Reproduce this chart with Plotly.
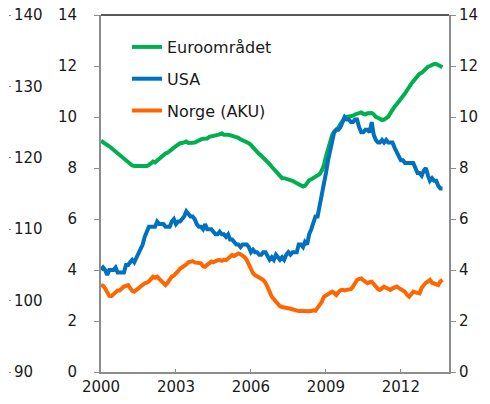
import plotly.graph_objects as go
import pandas as pd

months = pd.date_range("2000-01-01", "2013-09-01", freq="MS")

euro = [
    9.07, 9.0, 8.95, 8.9, 8.85, 8.78, 8.7, 8.62, 8.55, 8.5, 8.42, 8.35,
    8.3, 8.22, 8.15, 8.1, 8.08, 8.08, 8.07, 8.08, 8.08, 8.1, 8.08, 8.12,
    8.2, 8.25, 8.22, 8.3, 8.38, 8.42, 8.5, 8.57, 8.6, 8.68, 8.74, 8.8,
    8.86, 8.92, 8.97, 8.98, 9.0, 9.04, 8.98, 8.97, 8.99, 9.0, 9.05, 9.1,
    9.12, 9.15, 9.15, 9.16, 9.22, 9.25, 9.27, 9.28, 9.3, 9.32, 9.36, 9.3,
    9.32, 9.3, 9.29, 9.27, 9.25, 9.2, 9.18, 9.13, 9.1, 9.06, 9.02, 8.97,
    8.9, 8.8, 8.72, 8.62, 8.55, 8.48, 8.4, 8.34, 8.28, 8.15, 8.05, 7.95,
    7.85, 7.75, 7.65, 7.6, 7.6, 7.58, 7.57, 7.55, 7.5, 7.45, 7.4, 7.37,
    7.32, 7.27, 7.3, 7.42, 7.52, 7.56, 7.6, 7.66, 7.7, 7.76, 7.9, 8.1,
    8.45, 8.75, 9.05, 9.28, 9.42, 9.5, 9.58, 9.72, 9.85, 9.95, 10.0, 10.02,
    10.02, 10.05, 10.1, 10.12, 10.15, 10.18, 10.12, 10.1, 10.15, 10.17, 10.16, 10.1,
    10.0, 9.97, 9.92, 9.88, 9.9, 9.95, 10.01, 10.15, 10.3, 10.4, 10.5, 10.6,
    10.67, 10.8, 10.92, 11.05, 11.2, 11.3, 11.4, 11.52, 11.6, 11.7, 11.73, 11.82,
    11.9, 11.97, 12.0, 12.05, 12.08, 12.08, 12.03, 11.97, 11.95,
]

usa = [
    4.0, 4.1, 4.0, 3.8, 4.0, 4.0, 4.0, 4.1, 3.9, 3.9, 3.9, 3.9,
    4.2, 4.2, 4.3, 4.4, 4.3, 4.5, 4.6, 4.9, 5.0, 5.3, 5.5, 5.7,
    5.7, 5.7, 5.7, 5.9, 5.8, 5.8, 5.8, 5.7, 5.7, 5.7, 5.9, 6.0,
    5.8, 5.9, 5.9, 6.0, 6.1, 6.3, 6.2, 6.1, 6.1, 6.0, 5.8, 5.7,
    5.7, 5.6, 5.8, 5.6, 5.6, 5.6, 5.5, 5.4, 5.4, 5.5, 5.4, 5.4,
    5.3, 5.4, 5.2, 5.2, 5.1, 5.0, 5.0, 4.9, 5.0, 5.0, 5.0, 4.9,
    4.7, 4.8, 4.7, 4.7, 4.6, 4.6, 4.7, 4.7, 4.5, 4.4, 4.5, 4.4,
    4.6, 4.5, 4.4, 4.5, 4.4, 4.6, 4.7, 4.6, 4.7, 4.7, 4.7, 5.0,
    5.0, 4.9, 5.1, 5.0, 5.4, 5.6, 5.8, 6.1, 6.1, 6.5, 6.8, 7.3,
    7.8, 8.3, 8.7, 9.0, 9.4, 9.5, 9.5, 9.6, 9.8, 10.0, 9.9, 9.9,
    9.8, 9.8, 9.9, 9.9, 9.6, 9.4, 9.4, 9.5, 9.5, 9.4, 9.8, 9.3,
    9.1, 9.0, 9.0, 9.1, 9.0, 9.1, 9.0, 9.0, 9.0, 8.8, 8.6, 8.5,
    8.3, 8.3, 8.2, 8.2, 8.2, 8.2, 8.2, 8.0, 7.8, 7.8, 7.7, 7.9,
    8.0, 7.7, 7.5, 7.6, 7.5, 7.5, 7.3, 7.2, 7.2,
]

norge = [
    3.41, 3.38, 3.28, 3.12, 2.98, 2.97, 3.05, 3.12, 3.2, 3.2, 3.28, 3.35,
    3.38, 3.41, 3.3, 3.18, 3.15, 3.22, 3.3, 3.35, 3.4, 3.48, 3.5, 3.55,
    3.65, 3.74, 3.7, 3.74, 3.65, 3.55, 3.45, 3.41, 3.5, 3.62, 3.74, 3.78,
    3.85, 3.95, 4.05, 4.1, 4.15, 4.22, 4.3, 4.33, 4.35, 4.3, 4.28, 4.3,
    4.26, 4.15, 4.13, 4.2, 4.26, 4.33, 4.3, 4.35, 4.38, 4.39, 4.36, 4.4,
    4.39, 4.45, 4.52, 4.59, 4.55, 4.6, 4.65, 4.62, 4.58, 4.5, 4.39, 4.2,
    4.0, 3.87, 3.8, 3.75, 3.7, 3.65, 3.61, 3.5, 3.35, 3.15, 2.95, 2.85,
    2.75, 2.63, 2.58, 2.55, 2.52, 2.5, 2.5, 2.48, 2.45, 2.42, 2.4, 2.39,
    2.39, 2.38, 2.38, 2.4, 2.38, 2.39, 2.42, 2.4, 2.5, 2.63, 2.75, 2.95,
    3.0, 3.02, 3.08, 3.15, 3.1, 3.02, 3.12, 3.2, 3.22, 3.2, 3.22, 3.22,
    3.25, 3.35, 3.5, 3.61, 3.65, 3.67, 3.6, 3.55, 3.48, 3.52, 3.54, 3.45,
    3.35, 3.25, 3.22, 3.3, 3.35, 3.3, 3.25, 3.22, 3.28, 3.32, 3.35, 3.3,
    3.25, 3.22, 3.15, 3.02, 2.95, 3.05, 3.15, 3.12, 3.1, 3.08, 3.3, 3.41,
    3.5, 3.55, 3.61, 3.5, 3.48, 3.45, 3.41, 3.55, 3.61,
]

series_names = ["Euroområdet", "USA", "Norge (AKU)"]
series_colors = ["#00B050", "#0070C0", "#FF6600"]
tick_years = [2000, 2003, 2006, 2009, 2012]
left_ticks = [0, 2, 4, 6, 8, 10, 12, 14]
far_left_ticks = [90, 100, 110, 120, 130, 140]

FONT = "DejaVu Sans, Verdana, sans-serif"
AXIS_GRAY = "#8c8c8c"

fig = go.Figure()
for name, vals, col in zip(series_names, [euro, usa, norge], series_colors):
    fig.add_trace(go.Scatter(
        x=months, y=vals, name=name, mode="lines",
        line=dict(color=col, width=4), legendgroup=name,
    ))

# empty helper traces so the secondary axes are drawn
fig.add_trace(go.Scatter(x=[months[0]], y=[None], yaxis="y2", showlegend=False, hoverinfo="skip"))
fig.add_trace(go.Scatter(x=[months[0]], y=[None], yaxis="y3", showlegend=False, hoverinfo="skip"))

# the page body has an 8px margin, so the figure is laid out smaller/shifted
W, H = 474, 388
x0, x1 = 93, 441
top, bottom = 7, 364
fig.update_layout(
    width=W, height=H,
    margin=dict(l=0, r=0, t=top, b=H - bottom, autoexpand=False),
    paper_bgcolor="white", plot_bgcolor="white",
    font=dict(family=FONT, size=15, color="#1a1a1a"),
    showlegend=True,
    legend=dict(
        x=119 / W, y=1 - (22 - top) / (bottom - top), xanchor="left", yanchor="top",
        font=dict(size=16, color="#1a1a1a"),
        bgcolor="rgba(0,0,0,0)", traceorder="grouped", tracegroupgap=8,
        itemwidth=30,
    ),
    xaxis=dict(
        domain=[x0 / W, x1 / W],
        type="date", automargin=False,
        range=["2000-01-01", "2013-12-05"],
        tickvals=[f"{y}-01-01" for y in tick_years],
        ticktext=[str(y) for y in tick_years],
        showline=True, linecolor=AXIS_GRAY, linewidth=2,
        ticks="inside", ticklen=3, tickcolor=AXIS_GRAY,
        showgrid=False, zeroline=False,
        ticklabelstandoff=0, ticklabeloverflow="allow",
    ),
    yaxis=dict(
        range=[0, 14], tickvals=left_ticks, automargin=False,
        showline=True, linecolor=AXIS_GRAY, linewidth=2,
        ticks="outside", ticklen=5, tickcolor=AXIS_GRAY,
        showgrid=False, zeroline=False,
        ticklabelstandoff=14, ticklabeloverflow="allow",
    ),
    yaxis2=dict(
        range=[0, 14], tickvals=left_ticks, overlaying="y", side="right",
        automargin=False,
        showline=True, linecolor=AXIS_GRAY, linewidth=2,
        ticks="outside", ticklen=5, tickcolor=AXIS_GRAY,
        showgrid=False, zeroline=False,
        ticklabelstandoff=0, ticklabeloverflow="allow",
    ),
    yaxis3=dict(
        range=[90, 140], tickvals=far_left_ticks, overlaying="y", side="right",
        anchor="free", position=0, automargin=False,
        showline=False,
        ticks="outside", ticklen=2, tickcolor=AXIS_GRAY,
        showgrid=False, zeroline=False,
        ticklabelstandoff=0, ticklabeloverflow="allow",
    ),
    shapes=[dict(
        type="line", xref="paper", yref="paper",
        x0=x0 / W, x1=x1 / W, y0=1, y1=1,
        line=dict(color="#595959", width=2),
    )],
)

fig.write_html("out.html")
